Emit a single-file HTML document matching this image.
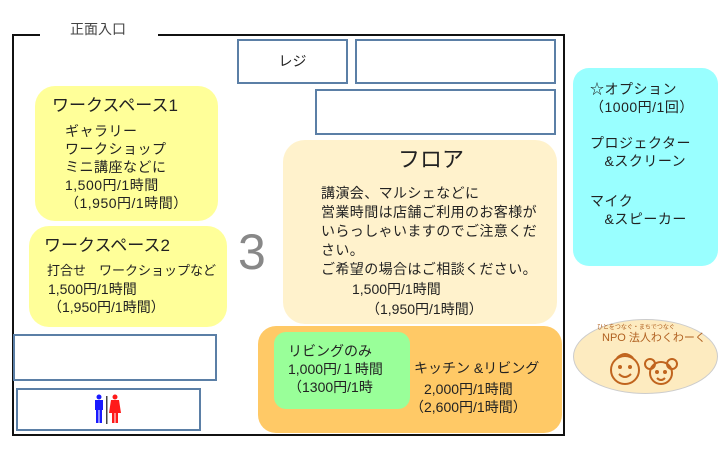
<!DOCTYPE html>
<html><head><meta charset="utf-8"><style>
body{margin:0;width:720px;height:449px;background:#fff;position:relative;overflow:hidden;font-family:"Liberation Sans","Noto Sans CJK JP",sans-serif;color:#222}
div{position:absolute;box-sizing:border-box}
.b{border:2px solid #5b7fa6;background:#fff}
.t{white-space:nowrap;font-size:14px;line-height:18px}
</style></head><body>
<div style="left:12px;top:34px;width:553px;height:402px;border:2px solid #111"></div>
<div style="left:40px;top:28px;width:118px;height:10px;background:#fff"></div>
<div class="t" style="left:70px;top:20px;color:#444">正面入口</div>
<div class="b" style="left:237px;top:39px;width:111px;height:45px;text-align:center;line-height:41px;font-size:14px">レジ</div>
<div class="b" style="left:355px;top:39px;width:201px;height:45px"></div>
<div class="b" style="left:315px;top:89px;width:241px;height:46px"></div>
<div style="left:35px;top:86px;width:183px;height:135px;background:#ffff99;border-radius:20px"></div>
<div class="t" style="left:52px;top:95px;font-size:17px;line-height:22px">ワークスペース1</div>
<div class="t" style="left:65px;top:122px;letter-spacing:0.5px">ギャラリー<br>ワークショップ<br>ミニ講座などに<br>1,500円/1時間<br>（1,950円/1時間）</div>
<div style="left:29px;top:226px;width:198px;height:101px;background:#ffff99;border-radius:20px"></div>
<div class="t" style="left:44px;top:235px;font-size:17px;line-height:22px">ワークスペース2</div>
<div class="t" style="left:47px;top:262px;font-size:13px">打合せ　ワークショップなど</div>
<div class="t" style="left:48px;top:280px">1,500円/1時間<br>（1,950円/1時間）</div>
<div class="t" style="left:238px;top:222px;font-size:50px;line-height:60px;color:#888">3</div>
<div style="left:283px;top:140px;width:274px;height:184px;background:#fff2cc;border-radius:22px"></div>
<div class="t" style="left:398px;top:146px;font-size:22px;line-height:28px">フロア</div>
<div class="t" style="left:321px;top:184px;line-height:19px;letter-spacing:0.4px">講演会、マルシェなどに<br>営業時間は店舗ご利用のお客様が<br>いらっしゃいますのでご注意くだ<br>さい。<br>ご希望の場合はご相談ください。</div>
<div class="t" style="left:352px;top:279px;line-height:20px">1,500円/1時間</div>
<div class="t" style="left:366px;top:299px;line-height:20px">（1,950円/1時間）</div>
<div style="left:258px;top:326px;width:304px;height:107px;background:#ffc966;border-radius:18px"></div>
<div style="left:274px;top:332px;width:136px;height:77px;background:#99ff99;border-radius:12px"></div>
<div class="t" style="left:288px;top:342px">リビングのみ<br>1,000円/１時間<br>（1300円/1時</div>
<div class="t" style="left:414px;top:359px;line-height:19px">キッチン &amp;リビング</div>
<div class="t" style="left:424px;top:380px">2,000円/1時間</div>
<div class="t" style="left:410px;top:398px">（2,600円/1時間）</div>
<div class="b" style="left:13px;top:334px;width:204px;height:47px"></div>
<div class="b" style="left:16px;top:388px;width:185px;height:43px"></div>
<svg style="position:absolute;left:90px;top:394px" width="36" height="34">
<circle cx="9" cy="3" r="2.5" fill="#1a1aff"/><rect x="5" y="6" width="8" height="10" fill="#1a1aff"/><rect x="6" y="15" width="2.5" height="14" fill="#1a1aff"/><rect x="9.5" y="15" width="2.5" height="14" fill="#1a1aff"/>
<rect x="16" y="2" width="1.5" height="28" fill="#444"/>
<circle cx="25" cy="3" r="2.5" fill="#ff1a1a"/><polygon points="21,6 29,6 31,19 19,19" fill="#ff1a1a"/><rect x="22" y="18" width="2.5" height="11" fill="#ff1a1a"/><rect x="25.5" y="18" width="2.5" height="11" fill="#ff1a1a"/>
</svg>
<div style="left:573px;top:68px;width:145px;height:198px;background:#99ffff;border-radius:16px"></div>
<div class="t" style="left:590px;top:80px;line-height:18px;letter-spacing:0.5px">☆オプション<br>（1000円/1回）</div>
<div class="t" style="left:590px;top:134px;line-height:18px;letter-spacing:0.5px">プロジェクター<br>　&amp;スクリーン</div>
<div class="t" style="left:590px;top:192px;line-height:18px;letter-spacing:0.5px">マイク<br>　&amp;スピーカー</div>
<div style="left:573px;top:319px;width:145px;height:75px;background:#fdebc0;border:1px solid #ccc;border-radius:50%"></div>
<div class="t" style="left:597px;top:324px;font-size:6px;line-height:8px;color:#b06020">ひとをつなぐ・まちでつなぐ</div>
<div class="t" style="left:602px;top:332px;font-size:11px;line-height:13px;color:#b06020">NPO 法人わくわーく</div>
<svg style="position:absolute;left:605px;top:346px" width="80" height="42" fill="none" stroke="#c0641e" stroke-width="2">
<circle cx="20" cy="24" r="14"/><path d="M12 12 q8 -8 16 0"/><path d="M14 28 q6 6 12 0"/><circle cx="15" cy="21" r="1" fill="#c0641e"/><circle cx="25" cy="21" r="1" fill="#c0641e"/>
<circle cx="56" cy="27" r="11"/><circle cx="45" cy="18" r="5"/><circle cx="67" cy="18" r="5"/><path d="M52 32 q4 4 8 0"/><circle cx="52" cy="26" r="1" fill="#c0641e"/><circle cx="60" cy="26" r="1" fill="#c0641e"/>
</svg>
</body></html>
